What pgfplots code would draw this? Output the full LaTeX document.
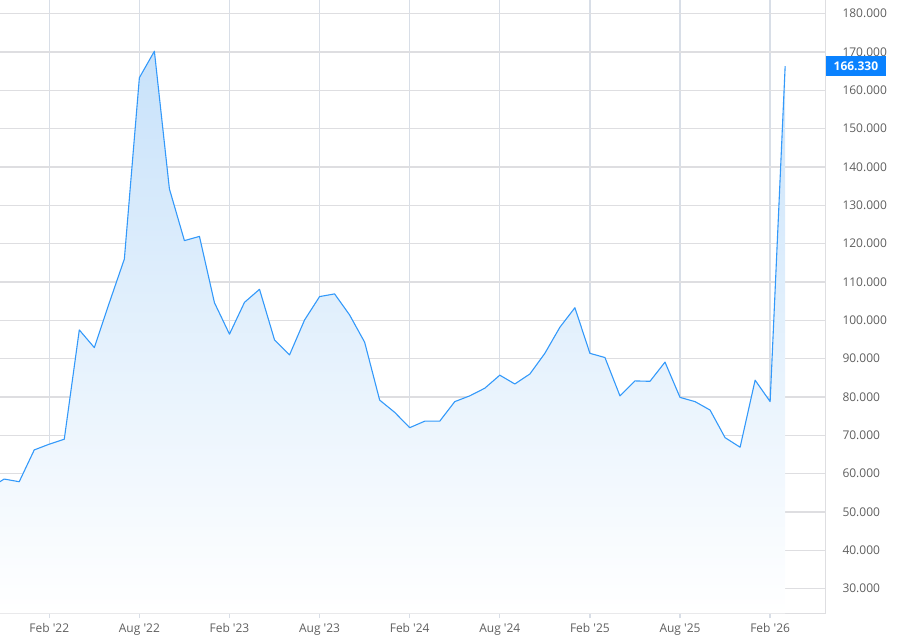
\documentclass[border=0pt]{standalone}
\usepackage{fontspec}
\setmainfont{Open Sans}
\usepackage{pgfplots}
\usepackage{pgfplotstable}
\pgfplotsset{compat=1.18}
\definecolor{linec}{RGB}{51,153,250}
\definecolor{filltop}{RGB}{200,226,250}
\definecolor{gridh}{RGB}{222,222,225}
\definecolor{gridv}{RGB}{216,222,231}
\definecolor{labc}{RGB}{95,95,95}
\definecolor{boxc}{RGB}{10,130,255}
\pgfplotstableread{
k v
-4 56.2
-3 58.6
-2 57.9
-1 66.2
0 67.7
1 69.0
2 97.5
3 92.9
4 104.6
5 116.0
6 163.3
7 170.2
8 134.3
9 120.8
10 121.9
11 104.6
12 96.4
13 104.7
14 108.1
15 94.9
16 91.0
17 100.1
18 106.2
19 106.9
20 101.4
21 94.3
22 79.2
23 76.0
24 72.0
25 73.7
26 73.7
27 78.8
28 80.3
29 82.3
30 85.7
31 83.4
32 86.0
33 91.4
34 98.2
35 103.3
36 91.4
37 90.3
38 80.3
39 84.2
40 84.1
41 89.1
42 79.9
43 78.8
44 76.6
45 69.4
46 66.9
47 84.4
48 78.8
49 166.33
}\prices
\begin{document}
\begin{tikzpicture}
\useasboundingbox (0,0) rectangle (913bp,639bp);
\begin{axis}[
  at={(0bp,25.7bp)}, anchor=south west,
  scale only axis, width=825.7bp, height=613.3bp,
  xmin=-3.28, xmax=51.7, ymin=23.58, ymax=183.57,
  axis x line*=bottom, axis y line*=right,
  axis line style={draw=gridh, line width=1.3bp, -},
  xtick={0,6,...,48},
  xticklabels={Feb \textquotesingle22, Aug \textquotesingle22, Feb \textquotesingle23, Aug \textquotesingle23, Feb \textquotesingle24, Aug \textquotesingle24, Feb \textquotesingle25, Aug \textquotesingle25, Feb \textquotesingle26},
  ytick={30,40,...,180},
  yticklabel pos=right,
  grid=major,
  x grid style={draw=gridv, line width=1.3bp},
  y grid style={draw=gridh, line width=1.3bp},
  xtick style={draw=gridv, line width=1.3bp},
  ytick style={draw=none},
  tick align=outside, major tick length=5bp,
  /pgf/number format/assume math mode=true,
  yticklabel={\pgfmathprintnumber[fixed,fixed zerofill,precision=3]{\tick}},
  tick label style={font=\fontsize{12bp}{14bp}\selectfont, text=labc, inner sep=0pt},
  xticklabel style={anchor=north, yshift=-5bp},
  yticklabel style={anchor=west, xshift=11.6bp},
]
\addplot[draw=none, top color=filltop, bottom color=white, forget plot] table[x=k,y=v] {\prices} \closedcycle;
\addplot[color=linec, line width=1.1bp, no marks, line join=round] table[x=k,y=v] {\prices};
\coordinate (lastlab) at (axis cs:51.7,166.33);
\end{axis}
\node[anchor=west, fill=boxc, text=white, font=\fontsize{12bp}{14bp}\selectfont\bfseries, minimum height=20bp, minimum width=60bp, inner xsep=0bp, inner ysep=3bp] at (lastlab) {166.330};
\end{tikzpicture}
\end{document}
